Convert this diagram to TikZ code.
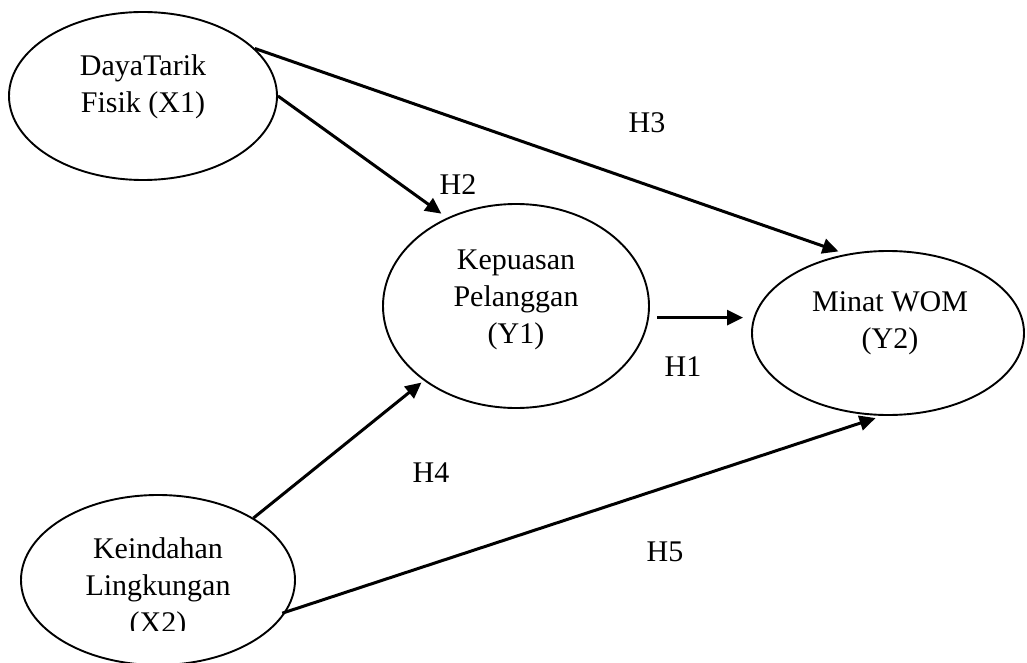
\documentclass[tikz,border=0pt]{standalone}
\usepackage{fontspec}
\setmainfont{Liberation Serif}
\usetikzlibrary{shapes.geometric,arrows.meta}

\begin{document}
\begin{tikzpicture}[x=1pt,y=-1pt,
		var/.style={ellipse, draw, line width=1.9pt, inner sep=0pt},
		txt/.style={align=center, inner sep=0pt, font=\fontsize{30}{37}\selectfont},
		hyp/.style={inner sep=0pt, font=\fontsize{30}{35}\selectfont},
		arr/.style={line width=3pt, -{Triangle[length=16pt,width=15pt]}}]
		\useasboundingbox (0,0) rectangle (1027,663);
		
		% variables
		\node[var, minimum width=268pt, minimum height=168pt] (x1) at (143,96) {};
		\node[var, minimum width=266pt, minimum height=204pt] (y1) at (516,306) {};
		\node[var, minimum width=272pt, minimum height=164pt] (y2) at (888,333) {};
		\node[var, minimum width=274pt, minimum height=170pt] (x2) at (158,580) {};
		
		\node[txt] (x1txt) at (143,86.5) {DayaTarik\\Fisik (X1)};
		\node[txt] (y1txt) at (516,299.5) {Kepuasan\\Pelanggan\\(Y1)};
		\node[txt] (y2txt) at (890,323) {Minat WOM\\(Y2)};
		\begin{scope}
			\clip (0,0) rectangle (1027,630);
			\node[txt] (x2txt) at (158,588) {Keindahan\\Lingkungan\\(X2)};
		\end{scope}
		
		% paths
		\draw[arr, shorten >=7pt] (x1.0) -- (y1.128);
		\draw[arr, shorten >=8pt] (x1.23) -- (y2.118);
		\draw[arr, shorten <=8pt, shorten >=8pt] (y1.-5) -- (y1.-5 -| y2.west);
		\draw[arr, shorten >=3pt] (x2.33) -- (y1.219);
		\draw[arr, shorten <=-4pt, shorten >=7pt] (x2.-14) -- (y2.266);
		
		\node[hyp] (h1) at (683,367) {H1};
		\node[hyp] (h2) at (458,185) {H2};
		\node[hyp] (h3) at (647,123) {H3};
		\node[hyp] (h4) at (431,473) {H4};
		\node[hyp] (h5) at (665,552) {H5};
	\end{tikzpicture}
\end{document}
